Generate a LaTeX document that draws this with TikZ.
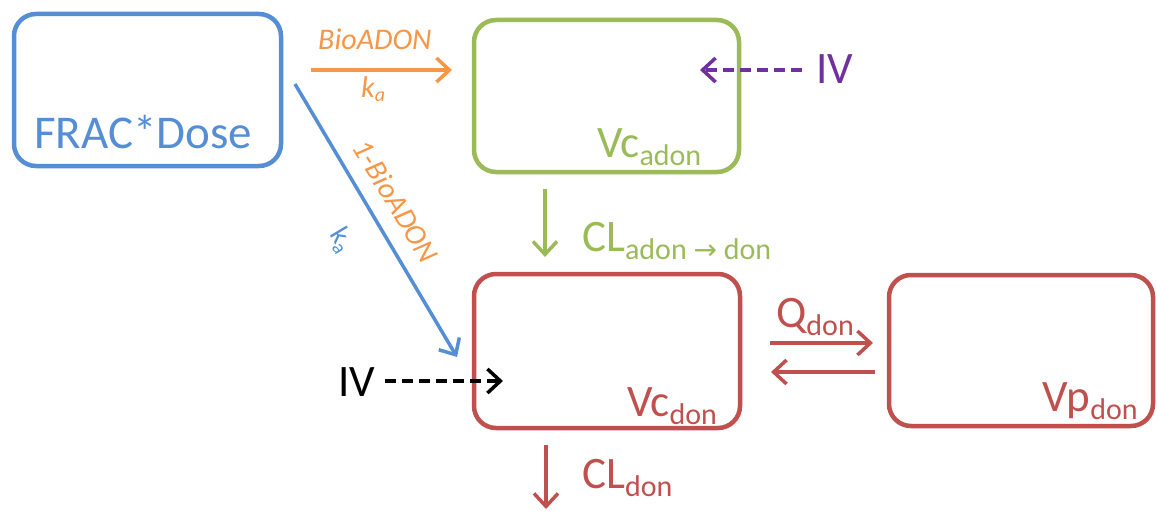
\documentclass[tikz,border=0pt]{standalone}
\usepackage{fontspec}
\setmainfont{Carlito}
\newfontfamily\arrowfont{DejaVu Sans}
\usetikzlibrary{arrows.meta}
\definecolor{cblue}{HTML}{558ED5}
\definecolor{cgreen}{HTML}{9BBB59}
\definecolor{cred}{HTML}{C0504D}
\definecolor{corange}{HTML}{F79646}
\definecolor{cpurple}{HTML}{7030A0}
\newcommand\sbs[1]{\raisebox{-8pt}{\fontsize{30}{32}\selectfont #1}}
\newcommand\ssbs[1]{\raisebox{-5pt}{\fontsize{20}{22}\selectfont #1}}
\begin{document}
\begin{tikzpicture}[x=1pt,y=-1pt,
  box/.style={draw,line width=4.5pt,rounded corners=22pt,anchor=north west,inner sep=0pt,outer sep=0pt},
  lbl/.style={inner sep=0pt,anchor=base west,font=\fontsize{45}{50}\selectfont},
  small/.style={inner sep=0pt,font=\fontsize{30}{34}\selectfont\itshape},
  arr/.style={line width=3.5pt,-{Straight Barb[length=13pt,width=24pt]}},
  dsh/.style={dash pattern=on 11pt off 6pt},
]
\useasboundingbox (0,0) rectangle (1157,511);
% boxes
\node[box,cblue,minimum width=267pt,minimum height=152pt] (frac) at (14,14) {};
\node[box,cgreen,minimum width=265pt,minimum height=152pt] (vca) at (474,20) {};
\node[box,cred,minimum width=266pt,minimum height=154pt] (vcd) at (474,274) {};
\node[box,cred,minimum width=264pt,minimum height=151pt] (vpd) at (889,275) {};
% box labels
\node[lbl,cblue,font=\fontsize{47}{52}\selectfont] (fractxt) at (34,148) {FRAC*Dose};
\node[lbl,cgreen] (vcatxt) at (597,157) {Vc\sbs{adon}};
\node[lbl,cred] (vcdtxt) at (627,416) {Vc\sbs{don}};
\node[lbl,cred] (vpdtxt) at (1042,411) {Vp\sbs{don}};
% coordinates
\coordinate (oS) at (311,70);
\coordinate (oE) at (452,70);
\coordinate (bS) at (295,84);
\coordinate (bE) at (457,357);
\coordinate (gS) at (545,189);
\coordinate (gE) at (545,257);
\coordinate (rS) at (546,445);
\coordinate (rE) at (546,509);
\coordinate (qS) at (770,343);
\coordinate (qE) at (873,343);
\coordinate (pS) at (875,372);
\coordinate (pE) at (771,372);
\coordinate (ivpS) at (802,70);
\coordinate (ivpE) at (700,70);
\coordinate (ivbS) at (385,381);
\coordinate (ivbE) at (503,381);
% arrows
\draw[arr,corange] (oS) -- (oE);
\draw[arr,cblue] (bS) -- (bE);
\draw[arr,cgreen] (gS) -- (gE);
\draw[arr,cred] (rS) -- (rE);
\draw[arr,cred] (qS) -- (qE);
\draw[arr,cred] (pS) -- (pE);
\draw[arr,cpurple,dsh] (ivpS) -- (ivpE);
\draw[arr,black,dsh] (ivbS) -- (ivbE);
% arrow labels
\node[small,corange,anchor=base west] (bio) at (318,50) {BioADON};
\node[small,corange,anchor=base west] (ka1) at (361,97) {k\ssbs{a}};
\node[small,corange,rotate=-59] (bio2) at (396,201) {1-BioADON};
\node[inner sep=0pt,cblue,rotate=-59,font=\fontsize{28}{30}\selectfont] (ka2) at (341,240) {k\ssbs{a}};
\node[lbl,cgreen] (cla) at (582,251) {CL\sbs{adon {\arrowfont\fontsize{28}{30}\selectfont →} don}};
\node[lbl,cred] (cld) at (582,488) {CL\sbs{don}};
\node[lbl,cred] (q) at (776,327) {Q\sbs{don}};
\node[lbl,cpurple] (ivp) at (816,84) {IV};
\node[lbl,black] (ivb) at (338,396) {IV};
\end{tikzpicture}
\end{document}
